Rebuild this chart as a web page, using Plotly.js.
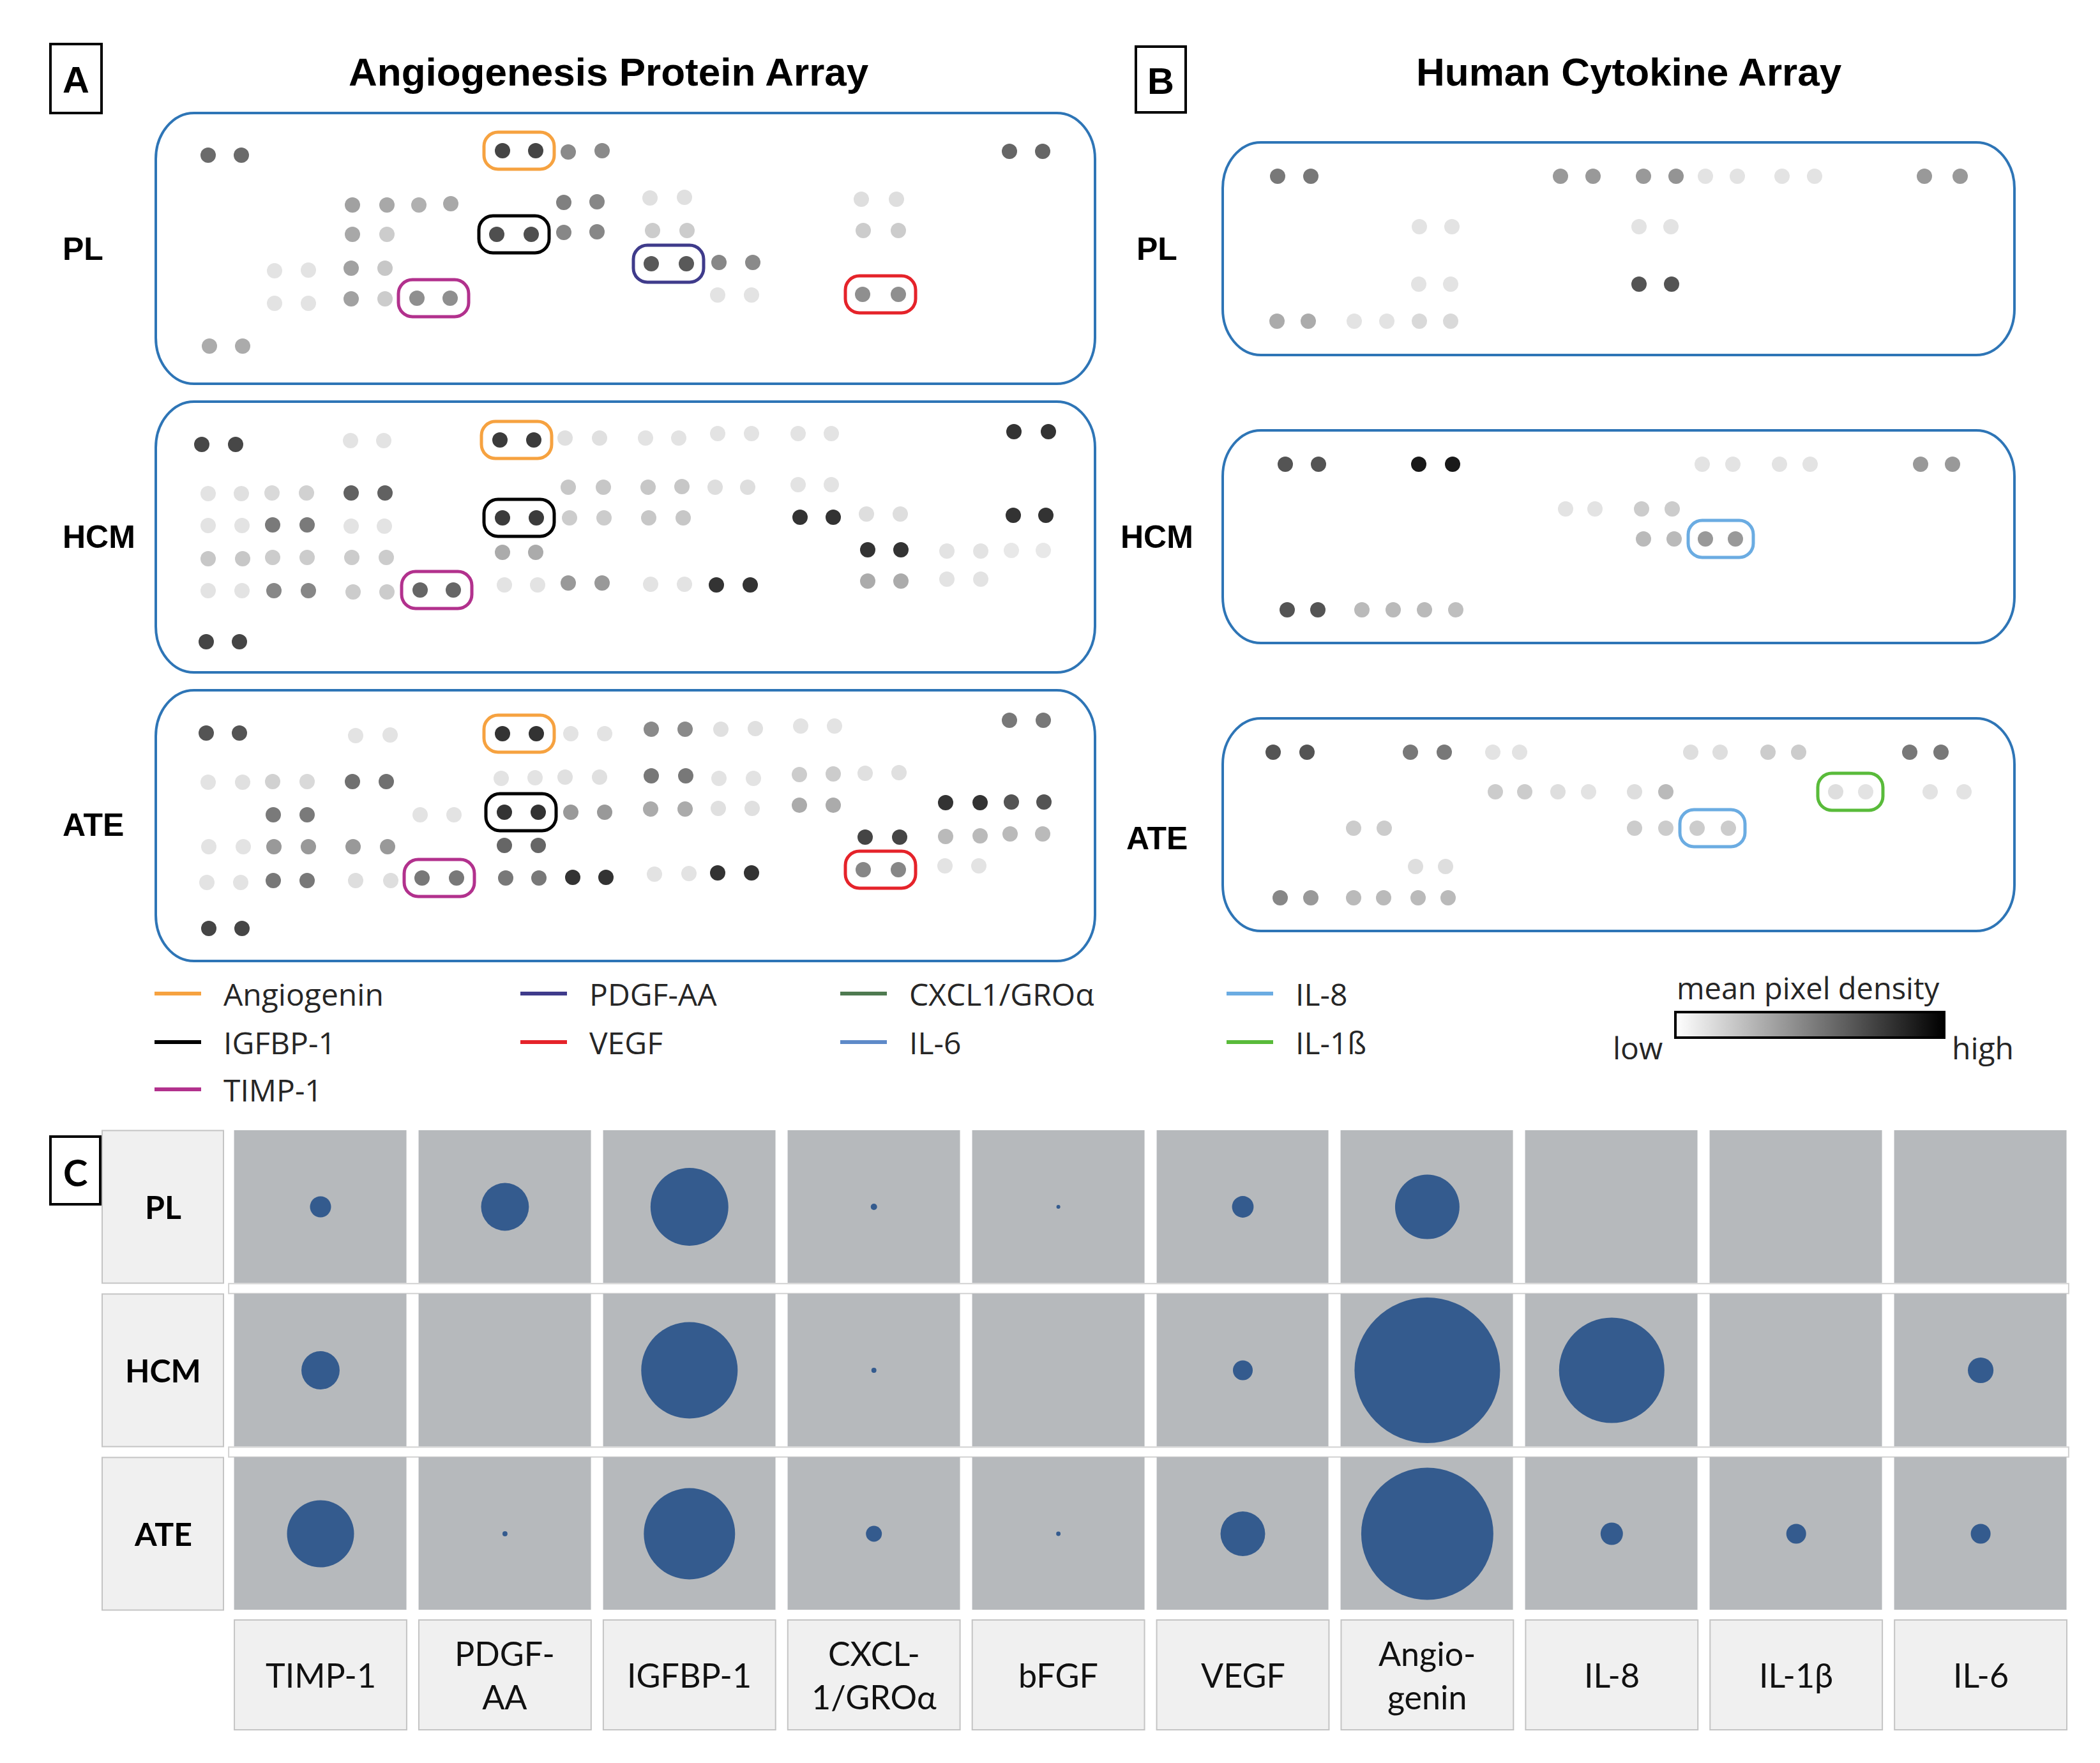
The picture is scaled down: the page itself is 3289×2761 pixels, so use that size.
<!DOCTYPE html>
<html><head><meta charset="utf-8">
<script src="https://cdn.plot.ly/plotly-3.0.1.min.js"></script>
<style>html,body{margin:0;padding:0;background:#fff}#chart{width:3289px;height:2761px}</style>
</head><body><div id="chart"></div>
<script>
// ---------------- DATA ----------------
// Spot positions on each membrane (px from the membrane frame's top-left) and relative density (0 = none, 1 = max)
const A_PL_x = [82,134,543,595,646,699,1337,1389, 308,362,412,462,639,691,774,828,1105,1160, 308,362,534,588,639,691,778,832,1108,1163, 776,831,882,935, 186,239,306,359, 186,239,306,359,409,461,880,933,1107,1163, 84,136];
const A_PL_y = [66,66,59,59,61,59,60,60, 144,144,144,142,140,139,133,132,135,135, 190,190,190,190,187,186,184,184,184,184, 236,236,234,234, 247,246,243,243, 298,298,291,291,290,290,285,285,284,284, 365,365];
const A_PL_d = [.58,.58,.73,.73,.46,.46,.6,.6, .37,.34,.31,.34,.5,.47,.12,.12,.13,.13, .34,.2,.69,.69,.47,.47,.2,.2,.2,.2, .65,.65,.47,.46, .11,.11,.37,.22, .11,.11,.37,.2,.44,.44,.11,.11,.44,.44, .33,.33];

const A_HCM_x = [72,125,305,357,539,592,641,695,767,819,880,933,1006,1058,1344,1398, 82,134,182,236,306,359,646,701,771,824,876,927,1006,1058, 82,135,183,237,306,358,543,596,648,702,772,826,1009,1061,1113,1166,1343,1394, 82,136,183,237,307,361,543,595,1115,1167,1239,1292,1340,1390, 82,135,185,239,309,362,414,466,546,598,646,699,775,828,878,931,1115,1167,1239,1292, 79,131];
const A_HCM_y = [67,67,61,61,60,60,57,57,57,57,50,50,50,50,47,47, 144,144,143,143,143,143,134,134,134,133,134,134,130,130, 194,194,193,193,195,195,182,182,182,182,182,182,181,181,176,176,178,178, 246,246,244,244,244,244,236,236,232,232,234,234,233,233, 296,296,296,296,298,298,295,295,287,287,284,284,286,286,287,287,281,281,278,278, 376,376];
const A_HCM_d = [.72,.72,.11,.11,.77,.77,.12,.12,.11,.11,.11,.11,.11,.11,.8,.8, .11,.12,.15,.18,.62,.62,.22,.22,.22,.22,.13,.13,.11,.11, .11,.11,.52,.52,.11,.11,.77,.77,.2,.2,.22,.22,.8,.8,.13,.13,.8,.8, .22,.22,.2,.2,.2,.2,.33,.33,.8,.8,.11,.11,.09,.09, .11,.11,.47,.47,.2,.2,.6,.6,.11,.11,.4,.4,.11,.11,.8,.8,.33,.33,.11,.11, .73,.73];

const A_ATE_x = [79,131,313,367,543,596,650,703,776,829,885,939,1010,1063,1337,1390, 82,136,183,237,308,361,541,594,641,695,776,830,882,936,1008,1061,1111,1164, 184,237,414,467,546,599,650,703,775,829,881,934,1008,1061,1237,1291,1340,1391, 83,137,185,239,309,363,546,599,1111,1165,1237,1291,1338,1389, 80,133,184,237,313,368,417,471,548,600,653,705,781,835,880,933,1108,1163,1236,1289, 83,135];
const A_ATE_y = [67,67,71,70,68,68,68,68,61,61,61,60,56,56,47,47, 144,144,143,143,143,143,138,137,136,136,134,134,138,138,132,131,130,129, 195,195,195,195,191,191,191,191,186,186,185,185,180,180,176,176,175,175, 245,245,245,245,245,245,243,243,230,230,229,228,225,225, 301,301,298,298,298,298,294,294,294,294,293,293,288,287,286,286,281,281,275,275, 373,373];
const A_ATE_d = [.67,.67,.11,.11,.8,.8,.11,.11,.46,.46,.12,.12,.11,.11,.53,.53, .11,.12,.18,.15,.56,.56,.11,.11,.12,.12,.53,.53,.11,.11,.2,.2,.12,.12, .52,.52,.11,.11,.8,.8,.4,.4,.33,.33,.12,.12,.33,.33,.8,.8,.67,.67, .11,.11,.4,.4,.4,.4,.6,.6,.73,.73,.27,.27,.27,.27, .11,.11,.53,.53,.13,.13,.53,.53,.53,.53,.8,.8,.11,.11,.8,.8,.47,.47,.11,.11, .73,.73];

const B_PL_x = [86,138,529,580,659,710,756,806,876,927,1099,1155, 308,359,652,702, 307,357,652,703, 85,134,206,257,308,357];
const B_PL_y = [53,53,53,53,53,53,53,53,53,53,53,53, 132,132,132,132, 222,222,222,222, 280,280,280,280,280,280];
const B_PL_d = [.53,.53,.4,.4,.4,.42,.11,.11,.11,.11,.4,.4, .11,.11,.11,.11, .11,.11,.67,.67, .33,.33,.11,.11,.15,.15];

const B_HCM_x = [98,150,307,360,751,799,872,920,1093,1143, 537,583,656,704, 659,707,756,803, 101,149,218,267,316,365];
const B_HCM_y = [53,53,53,53,53,53,53,53,53,53, 123,123,123,123, 170,170,170,170, 281,281,281,281,281,281];
const B_HCM_d = [.67,.67,.9,.9,.11,.11,.11,.11,.4,.4, .11,.11,.2,.2, .27,.27,.4,.4, .67,.67,.27,.27,.27,.25];

const B_ATE_x = [79,132,294,347,423,465,733,779,854,902,1076,1125, 427,473,525,573,645,694,960,1007,1108,1161, 205,253,645,694,743,792, 302,349, 90,138,205,252,306,353];
const B_ATE_y = [53,53,53,53,53,53,53,53,53,53,53,53, 115,115,115,115,115,115,115,115,115,115, 172,172,172,172,172,172, 232,232, 281,281,281,281,281,281];
const B_ATE_d = [.67,.67,.53,.53,.11,.11,.13,.13,.2,.2,.53,.53, .2,.2,.13,.11,.13,.27,.13,.11,.11,.11, .2,.2,.2,.2,.2,.2, .13,.13, .47,.4,.27,.27,.27,.27];

// Highlighted analyte spot pairs (pair centre on the membrane)
const hlPanel   = ['A_PL','A_PL','A_PL','A_PL','A_PL','A_HCM','A_HCM','A_HCM','A_ATE','A_ATE','A_ATE','A_ATE','B_HCM','B_ATE','B_ATE'];
const hlAnalyte = ['Angiogenin','IGFBP-1','PDGF-AA','TIMP-1','VEGF','Angiogenin','IGFBP-1','TIMP-1','Angiogenin','IGFBP-1','TIMP-1','VEGF','IL-8','IL-1ß','IL-8'];
const hlX = [569,561,803,435,1135, 565,569,440, 569,572,444,1135, 780, 983, 767];
const hlY = [59,190,236,290,284, 60,182,295, 68,191,294,281, 170, 115, 172];

// Legend analytes
const analytes      = ['Angiogenin','IGFBP-1','TIMP-1','PDGF-AA','VEGF','CXCL1/GROα','IL-6','IL-8','IL-1ß'];
const analyteColors = ['#F6A240','#000000','#B2318D','#3F3B8B','#E5232A','#4E7A50','#5E8AC8','#6BACE2','#59BB3A'];
const legendCol     = [0,0,0,1,1,2,2,3,3];
const legendRow     = [0,1,2,0,1,0,1,0,1];

// Panel C: relative mean pixel density (bubble area)
const groups     = ['PL','HCM','ATE'];
const categories = ['TIMP-1','PDGF-AA','IGFBP-1','CXCL-1/GROα','bFGF','VEGF','Angiogenin','IL-8','IL-1β','IL-6'];
const catLabels  = ['TIMP-1','PDGF-<br>AA','IGFBP-1','CXCL-<br>1/GROα','bFGF','VEGF','Angio-<br>genin','IL-8','IL-1β','IL-6'];
const C_PL  = [2.1,10.8,28.6,0.19,0.07,2.2,19.6,0,0,0];
const C_HCM = [6.9,0,43.9,0.12,0,1.85,100,52.4,0,3.1];
const C_ATE = [21.2,0.12,39.3,1.2,0.09,9.4,82.4,2.36,1.85,1.85];

// ---------------- LAYOUT HELPERS ----------------
const W = 3289, H = 2761, PAD = 20;
const FA = 'Liberation Sans, Arial, sans-serif';
const FL = 'Open Sans, Noto Sans, sans-serif';
const FC = 'Lato, Open Sans, sans-serif';
const px = v => v / W, py = v => 1 - v / H;
const layout = {width:W, height:H, margin:{l:0,r:0,t:0,b:0}, paper_bgcolor:'#fff', plot_bgcolor:'rgba(0,0,0,0)', showlegend:false};
const traces = [], shapes = [], annotations = [];
const densityScale = [[0,'#ffffff'],[1,'#000000']];

function roundRect(x0,y0,x1,y1,rx,ry){
  const k=0.5523, cx=rx*k, cy=ry*k;
  return `M${x0+rx},${y0} L${x1-rx},${y0} C${x1-rx+cx},${y0} ${x1},${y0+ry-cy} ${x1},${y0+ry} L${x1},${y1-ry} C${x1},${y1-ry+cy} ${x1-rx+cx},${y1} ${x1-rx},${y1} L${x0+rx},${y1} C${x0+rx-cx},${y1} ${x0},${y1-ry+cy} ${x0},${y1-ry} L${x0},${y0+ry} C${x0},${y0+ry-cy} ${x0+rx-cx},${y0} ${x0+rx},${y0} Z`;
}
function txt(x,y,text,size,family,opts){
  return Object.assign({xref:'paper',yref:'paper',x:px(x),y:py(y),text:text,showarrow:false,xanchor:'center',yanchor:'middle',font:{family:family,size:size,color:'#000'}},opts||{});
}

const panels = [
  {name:'A_PL',  L:244,  T:177,  w:1471, h:424, xs:A_PL_x,  ys:A_PL_y,  ds:A_PL_d,  hw:55},
  {name:'A_HCM', L:244,  T:629,  w:1471, h:424, xs:A_HCM_x, ys:A_HCM_y, ds:A_HCM_d, hw:55},
  {name:'A_ATE', L:244,  T:1081, w:1471, h:424, xs:A_ATE_x, ys:A_ATE_y, ds:A_ATE_d, hw:55},
  {name:'B_PL',  L:1915, T:223,  w:1240, h:333, xs:B_PL_x,  ys:B_PL_y,  ds:B_PL_d,  hw:51},
  {name:'B_HCM', L:1915, T:674,  w:1240, h:333, xs:B_HCM_x, ys:B_HCM_y, ds:B_HCM_d, hw:51},
  {name:'B_ATE', L:1915, T:1125, w:1240, h:333, xs:B_ATE_x, ys:B_ATE_y, ds:B_ATE_d, hw:51}
];

panels.forEach((p,i)=>{
  const s = i===0 ? '' : String(i+1);
  p.s = s;
  layout['xaxis'+s] = {domain:[px(p.L-PAD), px(p.L+p.w+PAD)], range:[-PAD, p.w+PAD], visible:false, fixedrange:true, anchor:'y'+s};
  layout['yaxis'+s] = {domain:[py(p.T+p.h+PAD), py(p.T-PAD)], range:[p.h+PAD, -PAD], visible:false, fixedrange:true, anchor:'x'+s};
  const marker = {size:24, color:p.ds, colorscale:densityScale, cmin:0, cmax:1, opacity:1, line:{width:0}, showscale:i===0};
  if(i===0){
    marker.colorbar = {orientation:'h', x:px(2834.5), xanchor:'center', y:py(1607), yanchor:'middle',
      lenmode:'pixels', len:421, thicknessmode:'pixels', thickness:40, xpad:0, ypad:0,
      outlinewidth:4, outlinecolor:'#000', showticklabels:false, ticks:'', borderwidth:0, title:{text:''}};
  }
  traces.push({type:'scatter', mode:'markers', x:p.xs, y:p.ys, xaxis:'x'+s, yaxis:'y'+s, marker:marker, hoverinfo:'skip'});
  shapes.push({type:'path', xref:'x'+s, yref:'y'+s, path:roundRect(0,0,p.w,p.h,60,72), line:{color:'#2E75B6', width:4}});
});

// highlight boxes
hlPanel.forEach((pn,k)=>{
  const p = panels.find(q=>q.name===pn);
  const col = analyteColors[analytes.indexOf(hlAnalyte[k])];
  shapes.push({type:'path', xref:'x'+p.s, yref:'y'+p.s,
    path:roundRect(hlX[k]-p.hw, hlY[k]-29, hlX[k]+p.hw, hlY[k]+29, 22, 22), line:{color:col, width:5}});
});

// titles, letters, row labels
annotations.push(txt(953,113,'<b>Angiogenesis Protein Array</b>',62,FA));
annotations.push(txt(2551,113,'<b>Human Cytokine Array</b>',62,FA));
[[79,69,159,177,'A',FA],[1779,73,1857,176,'B',FA],[79,1780,157,1886,'C',FC]].forEach(b=>{
  shapes.push({type:'rect',xref:'paper',yref:'paper',x0:px(b[0]),x1:px(b[2]),y0:py(b[3]),y1:py(b[1]),line:{color:'#000',width:4},fillcolor:'rgba(0,0,0,0)'});
  annotations.push(txt((b[0]+b[2])/2,(b[1]+b[3])/2+2,'<b>'+b[4]+'</b>',58,b[5]));
});
const rowLabY_A = [390,841,1292], rowLabY_B = [390,841,1313];
groups.forEach((g,i)=>{
  annotations.push(txt(96,rowLabY_A[i],'<b>'+g+'</b>',50,FA,{xanchor:'left'}));
  annotations.push(txt(1812,rowLabY_B[i],'<b>'+g+'</b>',50,FA));
});

// legend (analyte colour key)
const legendColX = [242,815,1316,1921], legendRowY = [1556,1632,1706];
analytes.forEach((a,i)=>{
  const x0 = legendColX[legendCol[i]], y = legendRowY[legendRow[i]];
  shapes.push({type:'line',xref:'paper',yref:'paper',x0:px(x0),x1:px(x0+73),y0:py(y),y1:py(y),line:{color:analyteColors[i],width:6}});
  annotations.push(txt(x0+106,y,a,48,FL,{xanchor:'left',font:{family:FL,size:48,color:'#262626'}}));
});
annotations.push(txt(2832,1547,'mean pixel density',47,FL,{font:{family:FL,size:47,color:'#262626'}}));
annotations.push(txt(2565,1640,'low',48,FL,{font:{family:FL,size:48,color:'#262626'}}));
annotations.push(txt(3105,1640,'high',48,FL,{font:{family:FL,size:48,color:'#262626'}}));

// ---------------- PANEL C ----------------
const cX0 = 502, cDX = 288.9, cY0 = 1890, cDY = 256;
const ux = v => (v - cX0) / cDX, uy = v => (v - cY0) / cDY;
layout.xaxis7 = {domain:[px(150), px(3260)], range:[ux(150), ux(3260)], visible:false, fixedrange:true, anchor:'y7'};
layout.yaxis7 = {domain:[py(2720), py(1755)], range:[uy(2720), uy(1755)], visible:false, fixedrange:true, anchor:'x7'};
const catIdx = categories.map((c,i)=>i), grpIdx = groups.map((g,i)=>i);

// separator strips between rows
[0,1].forEach(r=>{
  shapes.push({type:'rect',xref:'x7',yref:'y7',x0:-0.498,x1:9.477,y0:r+0.47,y1:r+0.53,fillcolor:'#ffffff',line:{color:'#D2D2D2',width:2},layer:'below'});
});
traces.push({type:'heatmap', x:catIdx, y:grpIdx, z:groups.map(()=>categories.map(()=>1)),
  colorscale:[[0,'#B6B9BC'],[1,'#B6B9BC']], showscale:false, xgap:19, ygap:17, xaxis:'x7', yaxis:'y7', hoverinfo:'skip'});

const cVals = [C_PL, C_HCM, C_ATE];
const bx=[], by=[], bs=[];
cVals.forEach((row,r)=>row.forEach((v,i)=>{bx.push(i); by.push(r); bs.push(v);}));
const maxV = Math.max(...bs);
traces.push({type:'scatter', mode:'markers', x:bx, y:by, xaxis:'x7', yaxis:'y7', hoverinfo:'skip',
  marker:{size:bs, sizemode:'area', sizeref:2*maxV/(228*228), color:'#345B8E', opacity:1, line:{width:0}}});

// row label cells
groups.forEach((g,r)=>{
  shapes.push({type:'rect',xref:'x7',yref:'y7',x0:ux(160),x1:ux(350),y0:r-0.467,y1:r+0.467,fillcolor:'#F0F0F0',line:{color:'#C4C4C4',width:2}});
  annotations.push({xref:'x7',yref:'y7',x:ux(255),y:r,text:'<b>'+g+'</b>',showarrow:false,font:{family:FC,size:50,color:'#000'}});
});
// column label cells
categories.forEach((c,i)=>{
  shapes.push({type:'rect',xref:'x7',yref:'y7',x0:i-0.467,x1:i+0.467,y0:uy(2537),y1:uy(2709),fillcolor:'#F0F0F0',line:{color:'#C4C4C4',width:2}});
  annotations.push({xref:'x7',yref:'y7',x:i,y:uy(2623),text:catLabels[i],showarrow:false,font:{family:FC,size:52,color:'#111'}});
});

layout.shapes = shapes;
layout.annotations = annotations;
Plotly.newPlot('chart', traces, layout, {staticPlot:true, displayModeBar:false});
</script></body></html>
